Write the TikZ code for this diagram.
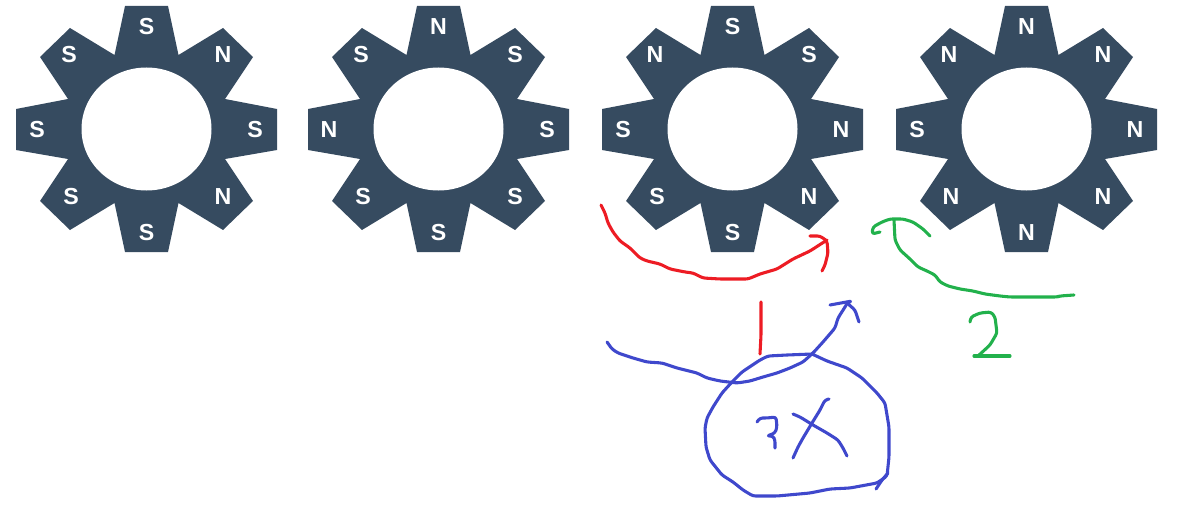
\documentclass[tikz,border=0pt]{standalone}
\usepackage{fontspec}
\setmainfont{Liberation Sans}
\definecolor{statorblue}{RGB}{54,75,96}
\definecolor{inkred}{RGB}{237,28,36}
\definecolor{inkgreen}{RGB}{34,177,76}
\definecolor{inkblue}{RGB}{63,72,204}
\tikzset{
  polelabel/.style={text=white,font=\fontsize{13.2pt}{13.2pt}\selectfont\bfseries,inner sep=0pt},
  ink/.style={line width=1.75pt,line cap=round,line join=round,rounded corners=1.5pt}
}
% one stator: name, then poles clockwise from the top
\newcommand{\stator}[9]{
  \fill[statorblue] (-21.5,-123) -- (21.5,-123) -- (32,-74) -- (76.5,-101) -- (106.5,-72)
    -- (78.5,-30) -- (130.5,-20) -- (130.5,21) -- (78.5,30) -- (106.5,72) -- (76.5,101)
    -- (32,74) -- (21.5,123) -- (-21.5,123) -- (-32,74) -- (-76.5,101) -- (-106.5,72)
    -- (-78.5,30) -- (-130.5,21) -- (-130.5,-20) -- (-78.5,-30) -- (-106.5,-72)
    -- (-76.5,-101) -- (-32,-74) -- cycle;
  \fill[white] (0,0) ellipse [x radius=65,y radius=61.5];
  \node[polelabel] (#1-n)  at (0,-102)    {#2};
  \node[polelabel] (#1-ne) at (76.5,-74)  {#3};
  \node[polelabel] (#1-e)  at (108.5,1)   {#4};
  \node[polelabel] (#1-se) at (76.5,68)   {#5};
  \node[polelabel] (#1-s)  at (0,104)     {#6};
  \node[polelabel] (#1-sw) at (-75.5,68)  {#7};
  \node[polelabel] (#1-w)  at (-109.5,1)  {#8};
  \node[polelabel] (#1-nw) at (-77.5,-74) {#9};
}
\begin{document}
\begin{tikzpicture}[x=0.02cm,y=-0.02cm]
    \useasboundingbox (0,0) rectangle (1200,510);

    % ================= STATORS =================
    \begin{scope}[shift={(146.5,129)}]
    \stator{first}{S}{N}{S}{N}{S}{S}{S}{S}
    \end{scope}
    \begin{scope}[shift={(438.5,129)}]
    \stator{second}{N}{S}{S}{S}{S}{S}{N}{S}
    \end{scope}
    \begin{scope}[shift={(732.5,129)}]
    \stator{third}{S}{S}{N}{N}{S}{S}{S}{N}
    \end{scope}
    \begin{scope}[shift={(1026.5,129)}]
    \stator{fourth}{N}{N}{N}{N}{N}{N}{S}{N}
    \end{scope}

    % ================= RED STROKES =================
    \draw[ink,inkred] (601,205) -- (605,213) -- (608,223) -- (613,232) -- (620,241) -- (630,248)
      -- (640,258) -- (647,261) -- (660,264) -- (670,269) -- (685,272) -- (693,273) -- (703,278)
      -- (720,279) -- (748,279) -- (760,274) -- (777,269) -- (793,259) -- (810,251) -- (827,240);
    \draw[ink,inkred] (810,236) -- (820,236) -- (827,241) -- (828,253) -- (825,265) -- (822,271);
    \draw[ink,inkred] (761,302) -- (761,335) -- (760,354);

    % ================= GREEN STROKES =================
    \draw[ink,inkgreen] (1074,295) -- (1060,296) -- (1057,297) -- (1010,297) -- (1000,296) -- (985,294)
      -- (973,291) -- (960,289) -- (948,286) -- (940,282) -- (935,275) -- (927,271) -- (918,267)
      -- (910,259) -- (900,250) -- (895,240) -- (894,220);
    \draw[ink,inkgreen] (880,232) -- (872,234) -- (873,227) -- (882,222) -- (890,219) -- (903,219)
      -- (913,222) -- (923,229) -- (930,236);
    % the 2
    \draw[ink,inkgreen] (970,322) -- (971,317) -- (980,313) -- (991,312) -- (995,317) -- (997,333)
      -- (990,345) -- (978,356);
    \draw[ink,inkgreen] (974,356) -- (1010,356);

    % ================= BLUE STROKES =================
    \draw[ink,inkblue] (607,342) -- (612,349) -- (618,353) -- (633,358) -- (647,362) -- (662,363)
      -- (677,368) -- (697,373) -- (707,378) -- (720,381) -- (737,383) -- (750,381) -- (763,377)
      -- (777,373) -- (790,368) -- (803,362) -- (813,353) -- (823,342) -- (835,328) -- (838,318)
      -- (845,307) -- (848,302);
    \draw[ink,inkblue] (830,305) -- (852,301) -- (847,303) -- (855,310) -- (859,322);
    % circle round the 3X
    \draw[ink,inkblue] (812,354) -- (787,355) -- (768,356) -- (760,360) -- (742,372) -- (732,382)
      -- (722,393) -- (713,407) -- (707,418) -- (705,428) -- (706,447) -- (710,460) -- (722,475)
      -- (733,482) -- (743,490) -- (753,496) -- (777,496) -- (810,493) -- (830,489) -- (850,488)
      -- (877,483) -- (887,476) -- (889,457) -- (889,427) -- (885,403) -- (877,393) -- (862,378)
      -- (847,368) -- (827,361) -- (812,354);
    \draw[ink,inkblue] (876,489) -- (882,480) -- (888,473);
    % the 3
    \draw[ink,inkblue] (757,422) -- (760,418) -- (767,418) -- (776,417) -- (777,427) -- (775,433)
      -- (767,436) -- (773,436) -- (775,440) -- (775,448);
    % the X
    \draw[ink,inkblue] (829,399) -- (825,400) -- (820,410) -- (812,423) -- (803,438) -- (798,447) -- (793,458);
    \draw[ink,inkblue] (793,414) -- (800,417) -- (813,425) -- (827,433) -- (838,440) -- (843,448) -- (847,456);
\end{tikzpicture}
\end{document}
